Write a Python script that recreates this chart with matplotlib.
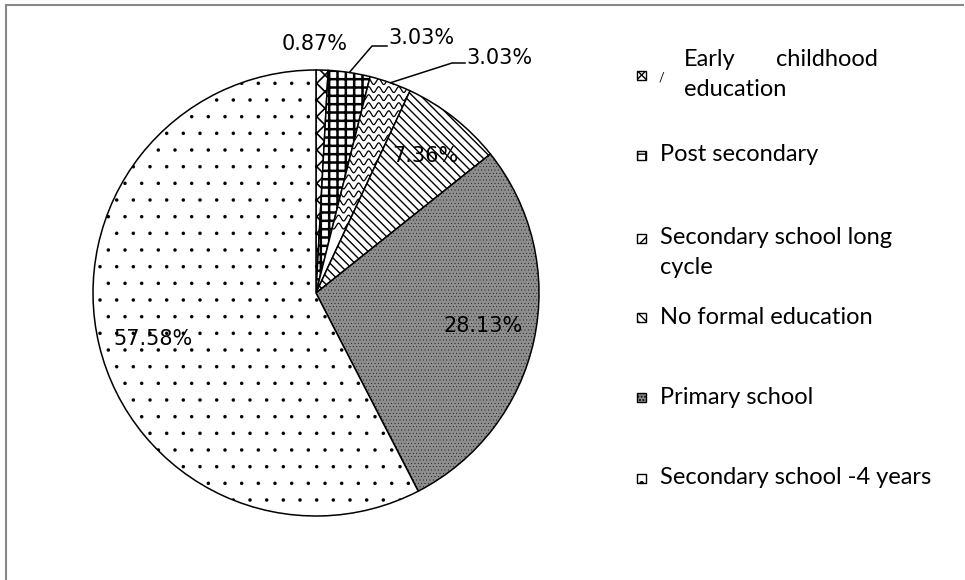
import numpy as np
import matplotlib.pyplot as plt
from matplotlib.patches import Rectangle
from matplotlib.lines import Line2D

# education level shares (%), clockwise from 12 o'clock
categories = ["Early childhood education", "Post secondary", "Secondary school long cycle",
              "No formal education", "Primary school", "Secondary school -4 years"]
shares = [0.87, 3.03, 3.03, 7.36, 28.13, 57.58]

# legend text as it is wrapped on the page
legend_lines = [["Early      childhood", "education"],
                ["Post secondary"],
                ["Secondary school long", "cycle"],
                ["No formal education"],
                ["Primary school"],
                ["Secondary school -4 years"]]

W, H = 965, 580
plt.rcParams['hatch.linewidth'] = 1.0

face_colors = ["white", "white", "white", "white", "#8e8e8e", "white"]
hatches = ["XX", "++", None, "\\\\\\\\", ".....", "."]
hatch_lw = [1.2, 1.8, 1.0, 1.0, 0.2, 0.1]

fig = plt.figure(figsize=(W / 100, H / 100), dpi=100)
fig.patch.set_facecolor("white")

def fx(px):
    return px / W

def fy(py):
    return 1 - py / H

# pie: centre (316, 293) px, radius 223 px
ax = fig.add_axes([fx(93), fy(293 + 223), 446 / W, 446 / H])
wedges, _ = ax.pie(shares, startangle=90, counterclock=False, radius=1,
                   colors=face_colors,
                   wedgeprops=dict(edgecolor="black", linewidth=1.1))
for w, h, hl in zip(wedges, hatches, hatch_lw):
    if h:
        w.set_hatch(h)
        if hasattr(w, "set_hatch_linewidth"):
            w.set_hatch_linewidth(hl)
ax.set_xlim(-1, 1)
ax.set_ylim(-1, 1)
ax.set_aspect("equal")
ax.axis("off")

# wavy fill for the long-cycle slice
xs = np.linspace(-0.2, 1.0, 800)
for y0 in np.arange(0.3, 1.1, 0.036):
    ln, = ax.plot(xs, y0 + 0.013 * np.sin(2 * np.pi * xs / 0.045), color="black", lw=0.9)
    ln.set_clip_path(wedges[2])

# percentage labels
def to_data(px, py):
    return (px - 316) / 223, (293 - py) / 223

label_pos = [(315, 44), (388, 38), (466, 58), (425, 156), (483, 326), (153, 339)]
label_ha = ["center", "left", "left", "center", "center", "center"]
for v, (px, py), ha in zip(shares, label_pos, label_ha):
    x, y = to_data(px, py)
    ax.text(x, y, f"{v:.2f}%", ha=ha, va="center", fontsize=15,
            family="DejaVu Sans", color="black")

# leader lines for the two small slices
cum = np.cumsum([0] + shares)
elbows = {1: [(372, 46), (387, 46)], 2: [(452, 63), (465, 63)]}
for i, pts in elbows.items():
    mid = np.deg2rad((cum[i] + shares[i] / 2) / 100 * 360)
    ex, ey = np.sin(mid), np.cos(mid)
    xy = [(ex, ey)] + [to_data(*p) for p in pts]
    ax.plot([p[0] for p in xy], [p[1] for p in xy], color="black", lw=1.1, clip_on=False)

# legend
marker_y = [75, 155, 238, 317, 397, 478]
text_y = [60, 155, 238, 317, 397, 478]
text_x = [684, 660, 660, 660, 660, 660]
leg_font = dict(family="Lato", fontsize=17, color="black")
for i, (lines, my, ty, tx) in enumerate(zip(legend_lines, marker_y, text_y, text_x)):
    box = Rectangle((fx(637), fy(my + 4.5)), 9 / W, 9 / H, transform=fig.transFigure,
                    facecolor=face_colors[i], edgecolor="black", lw=1.0,
                    hatch=hatches[i] if i != 2 else "//")
    fig.add_artist(box)
    for j, line in enumerate(lines):
        yy = ty + j * 30
        if i == 0 and j == 0:
            fig.text(fx(tx), fy(yy), "Early", ha="left", va="center", **leg_font)
            fig.text(fx(878), fy(yy), "childhood", ha="right", va="center", **leg_font)
        else:
            fig.text(fx(tx), fy(yy), line, ha="left", va="center", **leg_font)
fig.text(fx(659), fy(78), "/", ha="left", va="center", family="Lato", fontsize=9)

# page frame
fig.add_artist(Line2D([fx(6), fx(6)], [0, fy(5)], color="#888888", lw=1.5))
fig.add_artist(Line2D([fx(6), fx(963)], [fy(5), fy(5)], color="#888888", lw=1.5))

fig.savefig("out.png", dpi=100)
